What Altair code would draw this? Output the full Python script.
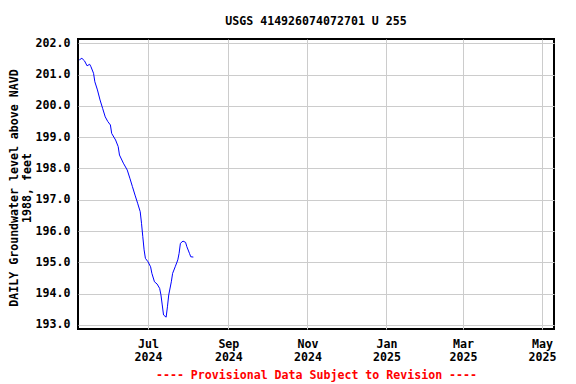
import altair as alt
import pandas as pd

dates = [
    "2024-05-09", "2024-05-11", "2024-05-13", "2024-05-15", "2024-05-17", "2024-05-18",
    "2024-05-20", "2024-05-21", "2024-05-23", "2024-05-25", "2024-05-27", "2024-05-29",
    "2024-05-31", "2024-06-02", "2024-06-03", "2024-06-06", "2024-06-08", "2024-06-09",
    "2024-06-12", "2024-06-15", "2024-06-17", "2024-06-19", "2024-06-21", "2024-06-23",
    "2024-06-25", "2024-06-26", "2024-06-27", "2024-06-28", "2024-06-29", "2024-07-01",
    "2024-07-03", "2024-07-04", "2024-07-06", "2024-07-08", "2024-07-10", "2024-07-11",
    "2024-07-12", "2024-07-13", "2024-07-15", "2024-07-16", "2024-07-17", "2024-07-19",
    "2024-07-20", "2024-07-22", "2024-07-24", "2024-07-25", "2024-07-26", "2024-07-28",
    "2024-07-30", "2024-07-31", "2024-08-02", "2024-08-03", "2024-08-05",
]
levels = [
    201.47, 201.52, 201.44, 201.28, 201.33, 201.25,
    201.04, 200.77, 200.51, 200.19, 199.92, 199.65,
    199.50, 199.39, 199.12, 198.91, 198.70, 198.43,
    198.17, 197.95, 197.69, 197.42, 197.15, 196.89,
    196.62, 196.25, 195.82, 195.40, 195.13, 195.02,
    194.86, 194.65, 194.38, 194.31, 194.17, 193.96,
    193.64, 193.32, 193.25, 193.58, 193.96, 194.38,
    194.65, 194.86, 195.08, 195.29, 195.61, 195.68,
    195.64, 195.50, 195.29, 195.18, 195.17,
]

y_ticks = [193, 194, 195, 196, 197, 198, 199, 200, 201, 202]
x_ticks = [
    alt.DateTime(year=2024, month=7, date=1),
    alt.DateTime(year=2024, month=9, date=1),
    alt.DateTime(year=2024, month=11, date=1),
    alt.DateTime(year=2025, month=1, date=1),
    alt.DateTime(year=2025, month=3, date=1),
    alt.DateTime(year=2025, month=5, date=1),
]

title_text = "USGS 414926074072701 U 255"
y_title = ["DAILY Groundwater level above NAVD", "1988, feet\u00a0\u00a0\u00a0"]
footer = "---- Provisional Data Subject to Revision ----"

df = pd.DataFrame({"date": [d + "T00:00:00" for d in dates], "level": levels})

FONT = "DejaVu Sans Mono"
FS = 11.6

chart = (
    alt.Chart(df)
    .mark_line(color="#0000ff", strokeWidth=1)
    .encode(
        x=alt.X(
            "date:T",
            scale=alt.Scale(
                domain=[
                    alt.DateTime(year=2024, month=5, date=8),
                    alt.DateTime(year=2025, month=5, date=10, hours=6),
                ]
            ),
            axis=alt.Axis(
                values=x_ticks,
                labelExpr="[timeFormat(datum.value, '%b'), timeFormat(datum.value, '%Y')]",
                title=footer,
                titleColor="#ff0000",
                titleFont=FONT,
                titleFontSize=FS,
                titleFontWeight="bold",
                titlePadding=7,
                labelFont=FONT,
                labelFontSize=FS,
                labelFontWeight="bold",
                labelColor="#000000",
                labelPadding=9,
                labelLineHeight=13,
                ticks=False,
                domain=False,
                grid=True,
                gridColor="#cccccc",
                gridWidth=1,
                labelOverlap=False,
            ),
        ),
        y=alt.Y(
            "level:Q",
            scale=alt.Scale(domain=[192.872, 202.137], nice=False, zero=False),
            axis=alt.Axis(
                values=y_ticks,
                format=".1f",
                title=y_title,
                titleFont=FONT,
                titleFontSize=FS,
                titleFontWeight="bold",
                titleColor="#000000",
                titleLineHeight=13,
                titleX=-59,
                titleY=148.5,
                titleAngle=270,
                titleBaseline="bottom",
                titleAlign="center",
                labelFont=FONT,
                labelFontSize=FS,
                labelFontWeight="bold",
                labelColor="#000000",
                labelPadding=8,
                ticks=False,
                domain=False,
                grid=True,
                gridColor="#cccccc",
                gridWidth=1,
            ),
        ),
    )
    .properties(
        width=476,
        height=290,
        background="#ffffff",
        title=alt.TitleParams(
            text=title_text,
            font=FONT,
            fontSize=FS,
            fontWeight="bold",
            color="#000000",
            anchor="middle",
            offset=10,
        ),
        autosize=alt.AutoSizeParams(type="none"),
        padding={"left": 70, "top": 31, "right": 14, "bottom": 54},
    )
    .configure_view(stroke="#000000", strokeWidth=2)
)

chart.save("out.html", embed_options={"renderer": "svg", "actions": False})
